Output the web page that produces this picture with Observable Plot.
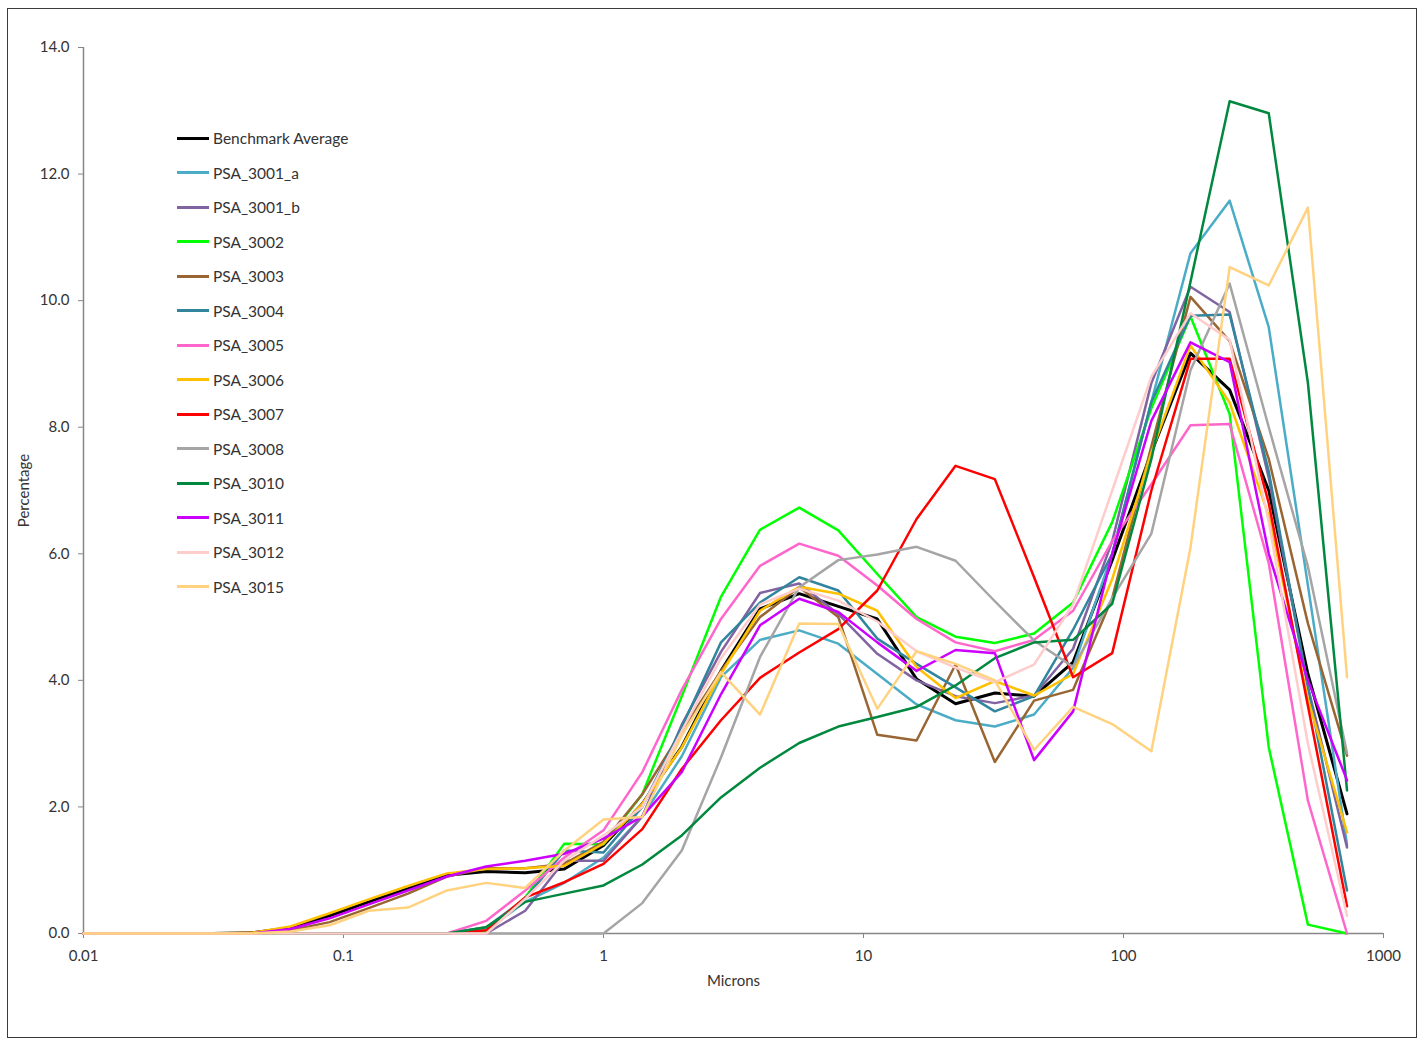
<!DOCTYPE html>
<html>
<head>
<meta charset="utf-8">
<script src="https://cdn.jsdelivr.net/npm/d3@7"></script>
<script src="https://cdn.jsdelivr.net/npm/@observablehq/plot@0.6"></script>
<style>
  body { margin: 0; background: #fff; }
  #frame { position: absolute; left: 7px; top: 8px; width: 1410px; height: 1030px; border: 1px solid #3a3a3a; box-sizing: border-box; }
  #chart { position: absolute; left: 0; top: 0; }
  #legend { position: absolute; left: 177px; top: 121px; font-family: Lato, "Open Sans", sans-serif; font-size: 15.5px; color: #333; }
  .item { height: 34.5px; display: flex; align-items: center; }
  .sw { width: 32px; height: 3px; margin-right: 4px; }
</style>
</head>
<body>
<div id="frame"></div>
<div id="chart"></div>
<div id="legend"></div>
<script>
// Particle size classes (microns)
const microns = [0.01, 0.0156, 0.0221, 0.0313, 0.0442, 0.0625, 0.0884, 0.125, 0.177, 0.25,
  0.354, 0.5, 0.707, 1, 1.41, 2, 2.83, 4, 5.66, 8,
  11.3, 16, 22.6, 32, 45.3, 64, 90.5, 128, 181, 256,
  362, 512, 724];

const seriesNames = ["Benchmark Average", "PSA_3001_a", "PSA_3001_b", "PSA_3002", "PSA_3003", "PSA_3004",
  "PSA_3005", "PSA_3006", "PSA_3007", "PSA_3008", "PSA_3010", "PSA_3011", "PSA_3012", "PSA_3015"];

const seriesColors = ["#000000", "#4BACC6", "#8064A2", "#00FF00", "#996633", "#31859C",
  "#FF66CC", "#FFC000", "#FF0000", "#A5A5A5", "#00883E", "#CC00FF", "#FFCCCC", "#FFD280"];

const benchmarkAverage = [0,0,0,0,0.01, 0.09,0.28,0.5,0.71,0.92, 0.98,0.96,1.02,1.39, 2.05,2.95,4.15,5.13,5.37,5.17, 4.97,4.02,3.63,3.8,3.75, 4.29,5.9,7.6,9.17,8.59, 7.0,4.1,1.89];
const psa3001a = [0,0,0,0,0, 0,0,0,0,0, 0.05,0.5,0.8,1.2, 1.85,2.8,4.05,4.64,4.79,4.58, 4.1,3.62,3.37,3.27,3.46, 4.2,6.0,8.4,10.75,11.58, 9.58,5.5,1.4];
const psa3001b = [0,0,0,0,0, 0,0,0,0,0, 0,0.36,1.15,1.15, 1.85,3.3,4.45,5.38,5.53,5.05, 4.42,4.0,3.75,3.64,3.76, 4.5,6.2,8.7,10.22,9.82, 7.2,3.9,1.36];
const psa3002 = [0,0,0,0,0, 0,0,0,0,0, 0.03,0.57,1.42,1.41, 2.2,3.75,5.32,6.38,6.73,6.37, 5.68,5.0,4.69,4.59,4.74, 5.23,6.5,8.3,9.75,8.21, 2.94,0.14,0];
const psa3003 = [0,0,0,0,0, 0.05,0.18,0.4,0.63,0.9, 1.03,1.03,1.1,1.45, 2.2,3.2,4.15,5.0,5.47,5.0, 3.14,3.05,4.25,2.71,3.68, 3.85,5.3,7.7,10.06,9.36, 7.5,4.9,2.81];
const psa3004 = [0,0,0,0,0, 0,0,0,0,0, 0.1,0.55,1.31,1.28, 2.0,3.26,4.6,5.23,5.63,5.42, 4.66,4.26,3.89,3.51,3.75, 4.8,6.0,8.4,9.76,9.78, 7.3,3.9,0.68];
const psa3005 = [0,0,0,0,0, 0,0,0,0,0, 0.2,0.68,1.2,1.63, 2.55,3.85,4.97,5.81,6.16,5.97, 5.5,4.97,4.6,4.46,4.64, 5.1,6.2,7.1,8.03,8.05, 5.85,2.1,0];
const psa3006 = [0,0,0,0,0.01, 0.11,0.32,0.54,0.75,0.95, 1.02,1.03,1.07,1.42, 2.05,2.94,4.1,5.1,5.48,5.37, 5.1,4.21,3.72,3.99,3.76, 4.1,5.6,7.6,9.29,8.39, 6.6,3.7,1.6];
const psa3007 = [0,0,0,0,0, 0,0,0,0,0, 0.05,0.57,0.81,1.1, 1.65,2.6,3.37,4.04,4.44,4.81, 5.42,6.55,7.39,7.18,5.63, 4.05,4.43,7.0,9.08,9.08, 6.8,3.6,0.43];
const psa3008 = [0,0,0,0,0, 0,0,0,0,0, 0,0,0,0, 0.48,1.31,2.78,4.37,5.47,5.9, 5.99,6.11,5.89,5.25,4.63, 4.21,5.3,6.32,8.9,10.27, 8.0,5.8,2.85];
const psa3010 = [0,0,0,0,0, 0,0,0,0,0, 0.1,0.5,0.63,0.76, 1.09,1.55,2.15,2.62,3.01,3.27, 3.42,3.58,3.92,4.35,4.6, 4.64,5.21,7.5,10.3,13.15, 12.96,8.7,2.26];
const psa3011 = [0,0,0,0,0, 0.07,0.24,0.46,0.68,0.9, 1.06,1.15,1.26,1.5, 1.85,2.55,3.78,4.87,5.29,5.08, 4.6,4.15,4.48,4.43,2.74, 3.51,6.0,8.1,9.34,9.03, 6.0,4.0,2.42];
const psa3012 = [0,0,0,0,0, 0,0,0,0,0, 0,0.55,1.15,1.55, 2.0,3.2,4.35,5.2,5.45,5.26, 4.93,4.46,4.2,3.97,4.25, 5.2,7.0,8.8,9.8,9.38, 6.5,3.0,0.28];
const psa3015 = [0,0,0,0,0, 0.03,0.13,0.36,0.41,0.68, 0.8,0.72,1.31,1.8, 1.84,3.13,4.13,3.46,4.9,4.89, 3.55,4.46,4.26,4.0,2.9, 3.58,3.31,2.88,6.1,10.53, 10.24,11.47,4.05];

const xTicks = [0.01, 0.1, 1, 10, 100, 1000];
const xTickLabels = ["0.01", "0.1", "1", "10", "100", "1000"];
const yTicks = [0, 2, 4, 6, 8, 10, 12, 14];

const seriesValues = [benchmarkAverage, psa3001a, psa3001b, psa3002, psa3003, psa3004,
  psa3005, psa3006, psa3007, psa3008, psa3010, psa3011, psa3012, psa3015];

const rows = seriesNames.flatMap((name, i) =>
  microns.map((x, j) => ({series: name, x, y: seriesValues[i][j]})));

const font = "Lato, 'Open Sans', sans-serif";

const chart = Plot.plot({
  width: 1417,
  height: 1038,
  marginLeft: 83,
  marginRight: 34,
  marginTop: 47,
  marginBottom: 105,
  style: {fontFamily: font, fontSize: "15px", color: "#333", background: "transparent"},
  x: {type: "log", domain: [0.01, 1000]},
  y: {domain: [0, 14]},
  color: {domain: seriesNames, range: seriesColors},
  marks: [
    Plot.ruleX([0.01], {stroke: "#868686", strokeWidth: 1.5}),
    Plot.ruleY([0], {stroke: "#868686", strokeWidth: 1.5}),
    Plot.axisY({ticks: yTicks, tickFormat: d => d.toFixed(1), tickSize: 5, tickPadding: 9, stroke: "#868686", fill: "#333", fontSize: 15, label: null}),
    Plot.axisX({ticks: xTicks, tickFormat: d => xTickLabels[xTicks.indexOf(d)], tickSize: 5, tickPadding: 12, stroke: "#868686", fill: "#333", fontSize: 15, label: null}),
    Plot.text(["Microns"], {frameAnchor: "bottom", dy: 52, fill: "#333", fontSize: 15}),
    Plot.text(["Percentage"], {frameAnchor: "left", dx: -59, rotate: -90, textAnchor: "middle", fill: "#333", fontSize: 15}),
    Plot.line(rows.filter(d => d.series === seriesNames[0]), {x: "x", y: "y", stroke: "series", strokeWidth: 3, curve: "linear"}),
    Plot.line(rows.filter(d => d.series !== seriesNames[0]), {x: "x", y: "y", z: "series", stroke: "series", strokeWidth: 2.5, curve: "linear"})
  ]
});
document.getElementById("chart").appendChild(chart);

const legend = document.getElementById("legend");
seriesNames.forEach((name, i) => {
  const item = document.createElement("div");
  item.className = "item";
  const sw = document.createElement("div");
  sw.className = "sw";
  sw.style.background = seriesColors[i];
  const label = document.createElement("span");
  label.textContent = name;
  item.appendChild(sw);
  item.appendChild(label);
  legend.appendChild(item);
});
</script>
</body>
</html>
